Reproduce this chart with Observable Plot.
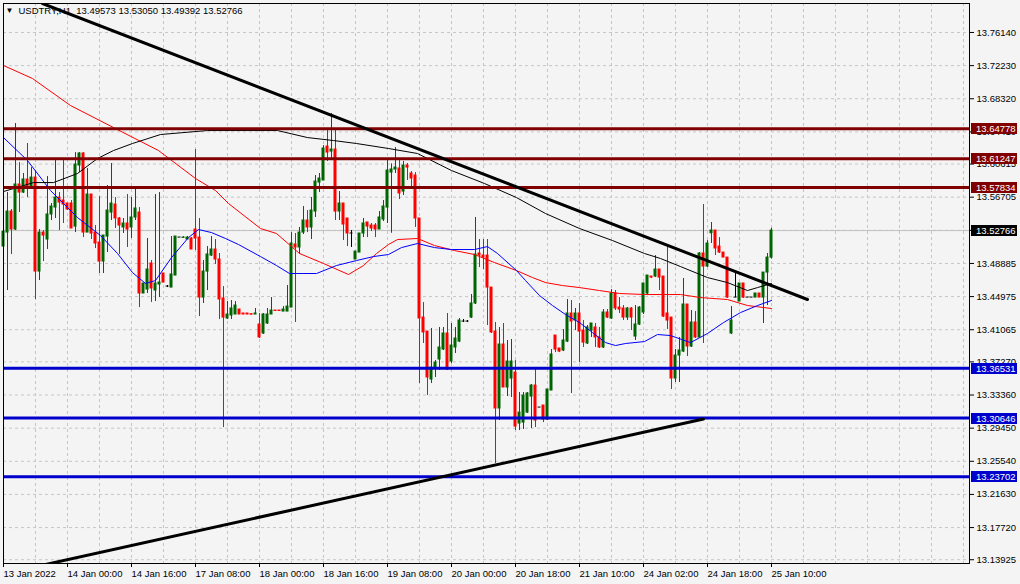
<!DOCTYPE html>
<html><head><meta charset="utf-8">
<script src="https://cdn.jsdelivr.net/npm/d3@7"></script>
<script src="https://cdn.jsdelivr.net/npm/@observablehq/plot@0.6"></script>
<style>
html,body{margin:0;padding:0;background:#f4f4f4;}
#chart{width:1020px;height:584px;overflow:hidden;}
</style></head><body><div id="chart"></div>
<script>
const symbolLabel = "USDTRY,H1";
const lastBar = [13.49573, 13.53050, 13.49392, 13.52766];

const opens = [13.5088,13.5253,13.5501,13.5289,13.5820,13.5725,13.5879,13.5784,13.5902,13.4793,
13.5253,13.5171,13.5466,13.5548,13.5666,13.5631,13.5596,13.5596,13.5324,13.6044,
13.6186,13.5253,13.5702,13.5253,13.5135,13.4911,13.5206,13.5489,13.5584,13.5419,
13.5313,13.5360,13.5313,13.5431,13.5489,13.4534,13.4581,13.4888,13.4569,13.4640,
13.4770,13.4616,13.4604,13.4746,13.5194,13.5190,13.5171,13.5183,13.5289,13.5194,
13.4486,13.4793,13.4982,13.5053,13.4935,13.4475,13.4239,13.4274,13.4286,13.4345,
13.4298,13.4298,13.4290,13.4286,13.4168,13.4062,13.4180,13.4286,13.4333,13.4333,
13.4321,13.4321,13.4368,13.5112,13.5077,13.5253,13.5395,13.5313,13.5501,13.5843,
13.5867,13.6268,13.6209,13.6233,13.5501,13.5596,13.5419,13.5242,13.4935,13.5017,
13.5242,13.5372,13.5336,13.5336,13.5289,13.5407,13.5548,13.5961,13.5997,13.6009,
13.5737,13.6044,13.5950,13.5926,13.5419,13.4250,13.4085,13.3519,13.3648,13.3755,
13.3873,13.4062,13.3731,13.3897,13.3967,13.4203,13.4203,13.4250,13.4416,13.5006,
13.4982,13.4982,13.4604,13.4085,13.3177,13.3932,13.3425,13.3531,13.3601,13.2999,
13.3011,13.3129,13.3318,13.3448,13.3188,13.3212,13.3047,13.3389,13.4038,13.3885,
13.3861,13.3967,13.4298,13.4215,13.4298,13.4097,13.3944,13.4097,13.4133,13.4015,
13.3897,13.4310,13.4239,13.4534,13.4368,13.4357,13.4250,13.4357,13.4026,13.4168,
13.4310,13.4534,13.4734,13.4734,13.4817,13.4734,13.4298,13.4250,13.3531,13.3802,
13.3849,13.4404,13.3908,13.4192,13.4015,13.5006,13.4852,13.5245,13.5277,13.5088,
13.5017,13.4958,13.4062,13.4486,13.4439,13.4652,13.4486,13.4486,13.4486,13.4534,
13.4486,13.4781,13.49573];
const highs = [13.6516,13.5725,13.5525,13.6540,13.6079,13.5950,13.6304,13.6020,13.5985,13.5289,
13.5277,13.5914,13.5596,13.6103,13.5725,13.6103,13.5596,13.5631,13.6197,13.6197,
13.6197,13.6009,13.5702,13.5336,13.5678,13.5218,13.5808,13.6068,13.5666,13.5431,
13.5419,13.5702,13.5666,13.5773,13.5548,13.4652,13.5183,13.4923,13.5702,13.5725,
13.4770,13.4628,13.5206,13.5206,13.5194,13.5206,13.5206,13.5194,13.6233,13.5419,
13.4923,13.5088,13.5206,13.5171,13.5006,13.4616,13.4439,13.4451,13.4439,13.4345,
13.4298,13.4298,13.4290,13.4357,13.4298,13.4298,13.4357,13.4486,13.4333,13.4333,
13.4380,13.4628,13.5253,13.5242,13.5313,13.5560,13.5513,13.5666,13.5926,13.5950,
13.6280,13.6457,13.6658,13.6457,13.5737,13.5596,13.5419,13.5277,13.5029,13.5242,
13.5419,13.5372,13.5360,13.5360,13.5501,13.5631,13.6103,13.6064,13.6256,13.6103,
13.6091,13.6068,13.5973,13.5961,13.5419,13.4427,13.4085,13.4121,13.3743,13.4133,
13.4133,13.4298,13.4180,13.4133,13.4239,13.4227,13.4215,13.4522,13.5431,13.5171,
13.5171,13.5171,13.4604,13.4192,13.4133,13.4180,13.3979,13.3991,13.3743,13.3366,
13.3366,13.3366,13.3460,13.3648,13.3188,13.3212,13.3401,13.3873,13.4038,13.3885,
13.4109,13.4463,13.4451,13.4357,13.4416,13.4215,13.4156,13.4180,13.4180,13.4133,
13.4345,13.4345,13.4581,13.4569,13.4486,13.4392,13.4368,13.4368,13.4392,13.4380,
13.4652,13.4746,13.4734,13.4982,13.4817,13.4734,13.5088,13.4250,13.3873,13.4015,
13.4711,13.4404,13.4333,13.4321,13.5017,13.5584,13.5159,13.5372,13.5277,13.5194,
13.5017,13.4958,13.4380,13.4770,13.4652,13.4652,13.4486,13.4486,13.4534,13.4534,
13.4781,13.5006,13.53050];
const lows = [13.4274,13.4569,13.4994,13.5277,13.5489,13.5714,13.5666,13.5773,13.4463,13.4687,
13.4911,13.5053,13.5395,13.5419,13.5277,13.5360,13.5513,13.5301,13.5253,13.5961,
13.5194,13.5253,13.5171,13.5065,13.4770,13.4770,13.5017,13.5395,13.5301,13.4994,
13.5242,13.5077,13.5183,13.5395,13.4368,13.4534,13.4534,13.4427,13.4439,13.4486,
13.4663,13.4604,13.4604,13.4746,13.5194,13.5194,13.5171,13.5053,13.5041,13.4262,
13.4416,13.4569,13.4970,13.4876,13.4227,13.2952,13.4227,13.4227,13.4286,13.4286,
13.4286,13.4286,13.4280,13.4286,13.4003,13.4050,13.4168,13.4286,13.4328,13.4328,
13.4321,13.4321,13.4368,13.4192,13.4994,13.5230,13.5253,13.5171,13.5431,13.5725,
13.5867,13.6091,13.6103,13.5395,13.5395,13.5159,13.5088,13.5077,13.4935,13.5017,
13.5194,13.5194,13.5265,13.5194,13.5289,13.5383,13.5360,13.5245,13.5950,13.5643,
13.5690,13.5867,13.5796,13.5313,13.3472,13.3944,13.3330,13.3472,13.3543,13.3625,
13.3861,13.3625,13.3707,13.3826,13.3955,13.4192,13.4192,13.4239,13.4404,13.4840,
13.4817,13.4156,13.4062,13.2528,13.3035,13.3425,13.3318,13.3307,13.2917,13.2917,
13.2929,13.3118,13.2940,13.2952,13.3188,13.3011,13.3035,13.3389,13.3837,13.3837,
13.3849,13.3955,13.3354,13.4097,13.3719,13.3897,13.3932,13.4015,13.3897,13.3885,
13.3885,13.4239,13.4227,13.4333,13.4298,13.4215,13.4215,13.4097,13.3979,13.4156,
13.4286,13.4510,13.4711,13.4722,13.4569,13.4250,13.4109,13.3401,13.3484,13.3484,
13.3837,13.3790,13.3897,13.4003,13.4015,13.3944,13.4840,13.5124,13.4982,13.5006,
13.4958,13.4475,13.4050,13.4486,13.4439,13.4475,13.4486,13.4486,13.4486,13.4486,
13.4180,13.4392,13.49392];
const closes = [13.5265,13.5501,13.5289,13.5820,13.5725,13.5879,13.5784,13.5902,13.4793,13.5253,
13.5218,13.5466,13.5560,13.5666,13.5607,13.5584,13.5525,13.5301,13.6056,13.6186,
13.5253,13.5702,13.5242,13.5124,13.4911,13.5218,13.5513,13.5596,13.5419,13.5336,
13.5360,13.5289,13.5431,13.5537,13.4534,13.4652,13.4817,13.4593,13.4652,13.4663,
13.4663,13.4616,13.4758,13.5206,13.5194,13.5194,13.5194,13.5053,13.5183,13.4486,
13.4793,13.4994,13.5053,13.4935,13.4463,13.4250,13.4286,13.4357,13.4392,13.4286,
13.4286,13.4286,13.4284,13.4298,13.4015,13.4286,13.4286,13.4333,13.4328,13.4328,
13.4345,13.4380,13.5124,13.5077,13.5253,13.5395,13.5313,13.5513,13.5855,13.5891,
13.6245,13.6197,13.6233,13.5501,13.5596,13.5348,13.5242,13.5242,13.5029,13.5242,
13.5360,13.5324,13.5301,13.5289,13.5431,13.5560,13.5985,13.5997,13.6020,13.5714,
13.6044,13.6020,13.5891,13.5419,13.4239,13.4074,13.3543,13.3660,13.3719,13.3897,
13.4062,13.3637,13.3920,13.4003,13.4215,13.4203,13.4203,13.4416,13.4994,13.4982,
13.4958,13.4604,13.4074,13.3177,13.3932,13.3425,13.3731,13.3731,13.2964,13.3129,
13.3330,13.3354,13.3448,13.3035,13.3188,13.3047,13.3401,13.3814,13.3873,13.3849,
13.3979,13.4298,13.4203,13.4298,13.4085,13.3955,13.4133,13.4180,13.4015,13.3897,
13.4310,13.4250,13.4534,13.4357,13.4345,13.4250,13.4357,13.4250,13.4168,13.4368,
13.4652,13.4746,13.4722,13.4817,13.4722,13.4262,13.4215,13.3531,13.3802,13.3861,
13.4404,13.3908,13.4192,13.4015,13.5006,13.4852,13.5124,13.5277,13.5065,13.5017,
13.4958,13.4486,13.4215,13.4486,13.4652,13.4486,13.4486,13.4486,13.4534,13.4486,
13.4781,13.4958,13.52766];

const xTickIndex = [0,16,32,48,64,80,96,112,128,144,160,176,192];
const xTickLabels = ["13 Jan 2022","14 Jan 00:00","14 Jan 16:00","17 Jan 08:00","18 Jan 00:00","18 Jan 16:00","19 Jan 08:00","20 Jan 00:00","20 Jan 18:00","21 Jan 10:00","24 Jan 02:00","24 Jan 18:00","25 Jan 10:00"];
const yTicks = [13.76140,13.72230,13.68320,13.64410,13.60615,13.56705,13.52795,13.48885,13.44975,13.41065,13.37270,13.33360,13.29450,13.25540,13.21630,13.17720,13.13925];

const resistanceLevels = [13.64778, 13.61247, 13.57834];
const supportLevels = [13.36531, 13.30646, 13.23702];
const bidPrice = 13.52766;

const maRedIdx = [0,7.25,16.75,27.5,38.75,48,53,56.25,64.25,68.25,74,80,86.25,90,93.25,96.25,98.5,103.5,107.75,112.75,117.75,122.75,128.25,132.25,135.5,139.75,144,149,154,160.25,169.25,174.25,181,186,192];
const maRedVal = [13.7224,13.7071,13.6752,13.6492,13.6221,13.5891,13.5749,13.5596,13.5301,13.5242,13.5006,13.4888,13.4758,13.4864,13.5006,13.5112,13.5171,13.5183,13.5100,13.5041,13.4994,13.4899,13.4805,13.4722,13.4663,13.4628,13.4604,13.4569,13.4534,13.4522,13.4522,13.4486,13.4463,13.4392,13.4357];
const maBlueIdx = [0,6,11.75,18.5,24.25,28.5,32.25,35.5,38,42,46.25,48.75,52,55.5,58.75,64.25,68.25,71.5,78.25,83.25,88.25,92.5,96.25,99.5,103.5,107.75,112,117.75,121,123.5,128.25,130.5,134,137.25,140.5,144,147.25,150.5,153,155.5,160.25,163.5,166.75,171.75,176,180,184.25,188.5,192];
const maBlueVal = [13.6374,13.6103,13.5749,13.5430,13.5218,13.5006,13.4781,13.4652,13.4687,13.4958,13.5194,13.5289,13.5253,13.5183,13.5112,13.4970,13.4864,13.4770,13.4770,13.4864,13.4923,13.4970,13.4994,13.5076,13.5124,13.5076,13.5053,13.5053,13.5088,13.5006,13.4805,13.4687,13.4510,13.4392,13.4286,13.4191,13.4073,13.3955,13.3920,13.3944,13.3967,13.4050,13.4038,13.3955,13.4062,13.4191,13.4309,13.4392,13.4451];
const maBlackIdx = [0,7.5,12.5,18.5,23.5,27.5,32.25,39.25,51,68.5,76,82.5,88.25,96.25,103.5,112,120.25,128.25,135.5,144,152.25,160.25,164.25,169.25,176,181,186,188.5,192];
const maBlackVal = [13.5737,13.5843,13.5843,13.5950,13.6127,13.6221,13.6304,13.6410,13.6457,13.6457,13.6374,13.6339,13.6304,13.6245,13.6186,13.5985,13.5832,13.5666,13.5478,13.5301,13.5159,13.5006,13.4947,13.4852,13.4722,13.4663,13.4569,13.4604,13.4652];

const trendDownIdx = [9.75, 201];
const trendDownVal = [13.7956, 13.4463];
const trendUpIdx = [8, 175];
const trendUpVal = [13.1310, 13.3053];

const candles = opens.map((o, i) => ({i, o, h: highs[i], l: lows[i], c: closes[i]}));
const col = d => d.c > d.o ? "#006400" : d.c < d.o ? "#ff0000" : "#000000";
const pts = (xs, ys) => xs.map((x, k) => ({x, y: ys[k]}));
const labelOf = new Map(xTickIndex.map((d, k) => [d, xTickLabels[k]]));
const gridIdx = d3.range(0, 241, 8);

const chart = Plot.plot({
  width: 1020, height: 584,
  marginLeft: 3, marginRight: 51, marginTop: 3, marginBottom: 21,
  style: {background: "#f4f4f4", fontFamily: "'Liberation Sans', Arial, sans-serif", fontSize: "9.5px", color: "#000", overflow: "visible"},
  x: {domain: [0, 241.5], axis: null},
  y: {domain: [13.1348, 13.7956], axis: null},
  marks: [
    Plot.gridY(yTicks, {stroke: "#c6c6c6", strokeOpacity: 1, strokeDasharray: "3,3"}),
    Plot.gridX(gridIdx, {stroke: "#c6c6c6", strokeOpacity: 1, strokeDasharray: "3,3"}),
    Plot.ruleY([bidPrice], {stroke: "#c0c0c0"}),
    Plot.ruleX(candles, {x: "i", y1: "l", y2: "h", stroke: col}),
    Plot.rect(candles, {x1: d => d.i - 0.375, x2: d => d.i + 0.375, y1: "o", y2: "c", fill: col, insetTop: -0.5, insetBottom: -0.5}),
    Plot.line(pts(maRedIdx, maRedVal), {x: "x", y: "y", stroke: "#ff0000", strokeWidth: 1}),
    Plot.line(pts(maBlueIdx, maBlueVal), {x: "x", y: "y", stroke: "#0000ff", strokeWidth: 1}),
    Plot.line(pts(maBlackIdx, maBlackVal), {x: "x", y: "y", stroke: "#000000", strokeWidth: 1}),
    Plot.ruleY(resistanceLevels, {stroke: "#800000", strokeWidth: 3}),
    Plot.ruleY(supportLevels, {stroke: "#0000cd", strokeWidth: 3}),
    Plot.line(pts(trendDownIdx, trendDownVal), {x: "x", y: "y", stroke: "#000", strokeWidth: 3, clip: true}),
    Plot.line(pts(trendUpIdx, trendUpVal), {x: "x", y: "y", stroke: "#000", strokeWidth: 3, clip: true}),
    Plot.frame({stroke: "#000"}),
    Plot.axisY(yTicks, {anchor: "right", tickSize: 4, tickPadding: 3, tickFormat: d => d.toFixed(5), label: null}),
    Plot.axisX(xTickIndex, {anchor: "bottom", tickSize: 4, tickPadding: 3, textAnchor: "start", tickFormat: d => labelOf.get(d), label: null}),
    Plot.text([`${symbolLabel}  ${lastBar.map(v => v.toFixed(5)).join(" ")}`], {frameAnchor: "top-left", dx: 15, dy: 4, lineAnchor: "top", textAnchor: "start", fontSize: 9.5, fill: "#000"}),
    Plot.text(["▼"], {frameAnchor: "top-left", dx: 2, dy: 4, lineAnchor: "top", textAnchor: "start", fontSize: 8, fill: "#000"})
  ]
});

// price badges on the right axis, positioned through the plot's own y scale
const ys = chart.scale("y");
const badges = [
  ...resistanceLevels.map(v => ({v, fill: "#800000"})),
  ...supportLevels.map(v => ({v, fill: "#0000cd"})),
  {v: bidPrice, fill: "#000000"}
];
const g = d3.select(chart).append("g")
  .attr("font-family", "'Liberation Sans', Arial, sans-serif")
  .attr("font-size", "9.5px")
  .attr("text-anchor", "start");
for (const b of badges) {
  const y = Math.round(ys.apply(b.v));
  g.append("rect").attr("x", 971).attr("y", y - 5).attr("width", 46).attr("height", 11).attr("fill", b.fill);
  g.append("text").attr("x", 976).attr("y", y + 0.5).attr("dy", "0.32em").attr("fill", "#fff").attr("text-anchor", "start").text(b.v.toFixed(5));
}
document.getElementById("chart").appendChild(chart);
</script>
</body></html>
